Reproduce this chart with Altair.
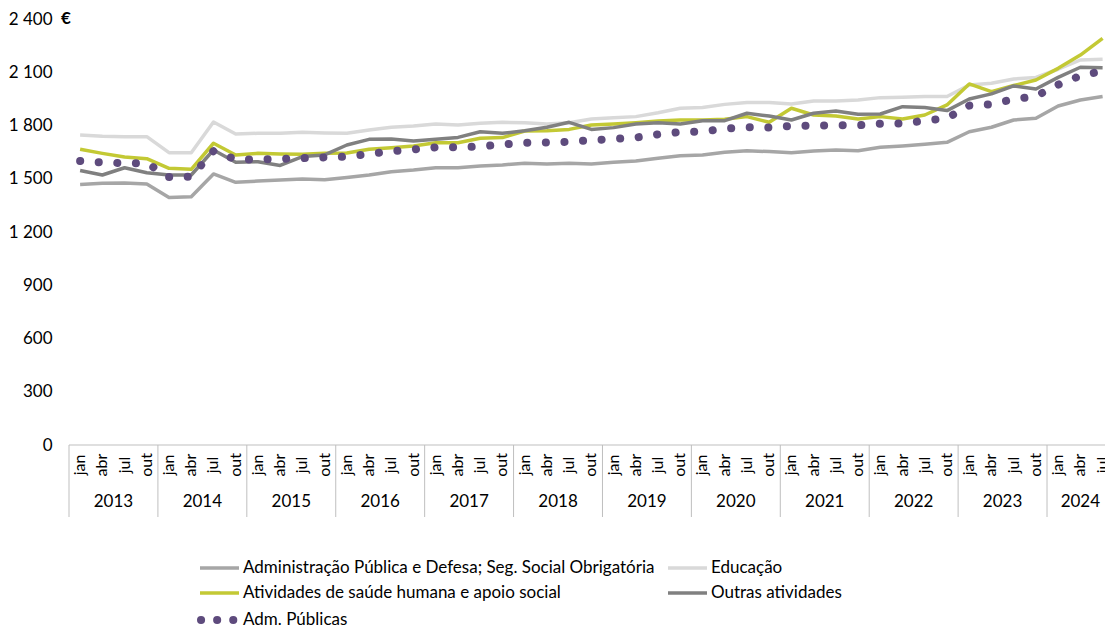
import altair as alt
import pandas as pd

# Quarterly periods, jan 2013 to jul 2024
years = [str(y) for y in range(2013, 2025)]
months = ["jan", "abr", "jul", "out"]
n_periods = 47

series_names = [
    "Administração Pública e Defesa; Seg. Social Obrigatória",
    "Educação",
    "Atividades de saúde humana e apoio social",
    "Outras atividades",
    "Adm. Públicas",
]
series_colors = ["#a6a6a6", "#d9d9d9", "#c3c934", "#808080", "#5e4b7d"]

# Average monthly earnings (EUR)
admin_defesa = [1468, 1474, 1476, 1470, 1394, 1399, 1527, 1480, 1487, 1493, 1498, 1495,
                1507, 1521, 1540, 1549, 1562, 1562, 1572, 1578, 1587, 1583, 1587, 1583,
                1593, 1600, 1615, 1630, 1634, 1649, 1658, 1653, 1647, 1656, 1662, 1658,
                1677, 1685, 1694, 1705, 1765, 1790, 1831, 1841, 1910, 1944, 1963]
educacao = [1747, 1740, 1737, 1737, 1647, 1647, 1820, 1752, 1756, 1756, 1762, 1758,
            1756, 1775, 1790, 1797, 1809, 1803, 1812, 1818, 1816, 1809, 1816, 1837,
            1844, 1850, 1872, 1897, 1902, 1919, 1929, 1929, 1921, 1938, 1938, 1944,
            1957, 1959, 1963, 1963, 2028, 2038, 2062, 2071, 2117, 2169, 2173]
saude = [1666, 1643, 1622, 1613, 1559, 1553, 1700, 1634, 1643, 1640, 1638, 1643,
         1645, 1666, 1675, 1685, 1703, 1703, 1728, 1732, 1769, 1771, 1778, 1803,
         1809, 1816, 1825, 1831, 1831, 1835, 1850, 1818, 1897, 1859, 1853, 1837,
         1850, 1837, 1859, 1916, 2034, 1991, 2025, 2056, 2122, 2197, 2291]
outras = [1546, 1521, 1562, 1534, 1521, 1521, 1662, 1593, 1596, 1575, 1625, 1634,
          1690, 1722, 1724, 1713, 1722, 1733, 1765, 1756, 1771, 1790, 1818, 1778,
          1788, 1809, 1816, 1809, 1827, 1827, 1869, 1853, 1831, 1869, 1882, 1863,
          1865, 1906, 1901, 1884, 1949, 1978, 2023, 2006, 2071, 2128, 2126]
adm_publicas = [1600, 1592, 1588, 1588, 1510, 1512, 1656, 1609, 1609, 1612, 1616, 1620,
                1625, 1640, 1655, 1665, 1677, 1677, 1682, 1693, 1703, 1704, 1708, 1717,
                1724, 1732, 1750, 1763, 1766, 1782, 1790, 1789, 1797, 1800, 1801, 1801,
                1810, 1812, 1827, 1842, 1912, 1920, 1948, 1965, 2030, 2080, 2107]

all_series = [admin_defesa, educacao, saude, outras, adm_publicas]

FONT = "Lato"
TEXT = "#000000"
AXIS_GRAY = "#bfbfbf"
PLOT_W, PLOT_H = 1036, 426

x_scale = alt.Scale(domain=[-0.5, 46.108], nice=False, zero=False)
y_scale = alt.Scale(domain=[0, 2400], nice=False, zero=True)
y_axis = alt.Axis(
    values=list(range(0, 2401, 300)),
    labelExpr="replace(format(datum.value, ','), ',', ' ')",
    domain=False, ticks=False, tickSize=0, grid=False,
    labelPadding=17, labelFontSize=17, labelFont=FONT, labelColor=TEXT,
    title=None,
)

idx = list(range(n_periods))


def series_frame(values):
    return pd.DataFrame({"idx": idx, "valor": values})


layers = []

# axis line at zero
axis_line = alt.Chart(pd.DataFrame({"valor": [0]})).mark_rule(
    color=AXIS_GRAY, strokeWidth=1
).encode(
    y=alt.Y("valor:Q", scale=y_scale, axis=y_axis),
    x=alt.value(0), x2=alt.value(PLOT_W),
)
layers.append(axis_line)

# solid series
for name, vals, col in zip(series_names[:4], all_series[:4], series_colors[:4]):
    layers.append(
        alt.Chart(series_frame(vals)).mark_line(
            color=col, strokeWidth=3.5, strokeJoin="round"
        ).encode(
            x=alt.X("idx:Q", scale=x_scale, axis=None),
            y=alt.Y("valor:Q", scale=y_scale, axis=y_axis),
        )
    )

# dotted series
layers.append(
    alt.Chart(series_frame(adm_publicas)).mark_line(
        color=series_colors[4], strokeWidth=8, strokeCap="round",
        strokeDash=[0.1, 18.5], strokeJoin="round"
    ).encode(
        x=alt.X("idx:Q", scale=x_scale, axis=None),
        y=alt.Y("valor:Q", scale=y_scale, axis=y_axis),
    )
)

# two-level category axis: months, years, separators
month_df = pd.DataFrame({"idx": idx, "mes": [months[i % 4] for i in idx]})
layers.append(
    alt.Chart(month_df).mark_text(
        angle=270, align="center", baseline="middle",
        font=FONT, fontSize=16, color=TEXT
    ).encode(
        x=alt.X("idx:Q", scale=x_scale, axis=None),
        y=alt.value(446),
        text="mes:N",
    )
)

year_mid = []
for k, y in enumerate(years):
    first = 4 * k
    last = min(4 * k + 3, n_periods - 1)
    year_mid.append((first + last) / 2)
year_df = pd.DataFrame({"idx": year_mid, "ano": years})
layers.append(
    alt.Chart(year_df).mark_text(
        align="center", baseline="middle", font=FONT, fontSize=17, color=TEXT
    ).encode(
        x=alt.X("idx:Q", scale=x_scale, axis=None),
        y=alt.value(483),
        text="ano:N",
    )
)

sep_df = pd.DataFrame({"idx": [4 * k - 0.5 for k in range(len(years))]})
layers.append(
    alt.Chart(sep_df).mark_rule(color=AXIS_GRAY, strokeWidth=1).encode(
        x=alt.X("idx:Q", scale=x_scale, axis=None),
        y=alt.value(PLOT_H), y2=alt.value(498),
    )
)

# currency unit next to the top tick
layers.append(
    alt.Chart(pd.DataFrame({"u": ["€"]})).mark_text(
        align="center", baseline="middle", font=FONT, fontSize=17,
        fontWeight="bold", color=TEXT
    ).encode(x=alt.value(-3), y=alt.value(0), text="u:N")
)

# legend
legend_rows = [
    (0, 131, 549), (1, 599, 549), (2, 131, 574), (3, 599, 574),
]
for i, lx, ly in legend_rows:
    layers.append(
        alt.Chart(pd.DataFrame({"s": [series_names[i]]})).mark_rule(
            color=series_colors[i], strokeWidth=3.5
        ).encode(x=alt.value(lx), x2=alt.value(lx + 39), y=alt.value(ly))
    )
    layers.append(
        alt.Chart(pd.DataFrame({"s": [series_names[i]]})).mark_text(
            align="left", baseline="middle", font=FONT, fontSize=17, color=TEXT
        ).encode(x=alt.value(lx + 43), y=alt.value(ly), text="s:N")
    )

layers.append(
    alt.Chart(pd.DataFrame({"s": [series_names[4]]})).mark_rule(
        color=series_colors[4], strokeWidth=8, strokeCap="round",
        strokeDash=[0.1, 16]
    ).encode(x=alt.value(132), x2=alt.value(166), y=alt.value(601))
)
layers.append(
    alt.Chart(pd.DataFrame({"s": [series_names[4]]})).mark_text(
        align="left", baseline="middle", font=FONT, fontSize=17, color=TEXT
    ).encode(x=alt.value(174), y=alt.value(601), text="s:N")
)

chart = alt.layer(*layers).properties(
    width=PLOT_W,
    height=PLOT_H,
    padding={"left": 69, "top": 19, "right": 0, "bottom": 183},
    autosize=alt.AutoSizeParams(type="none"),
    background="white",
).configure_view(stroke=None)

chart.save("out.html", embed_options={"renderer": "svg", "actions": False})
